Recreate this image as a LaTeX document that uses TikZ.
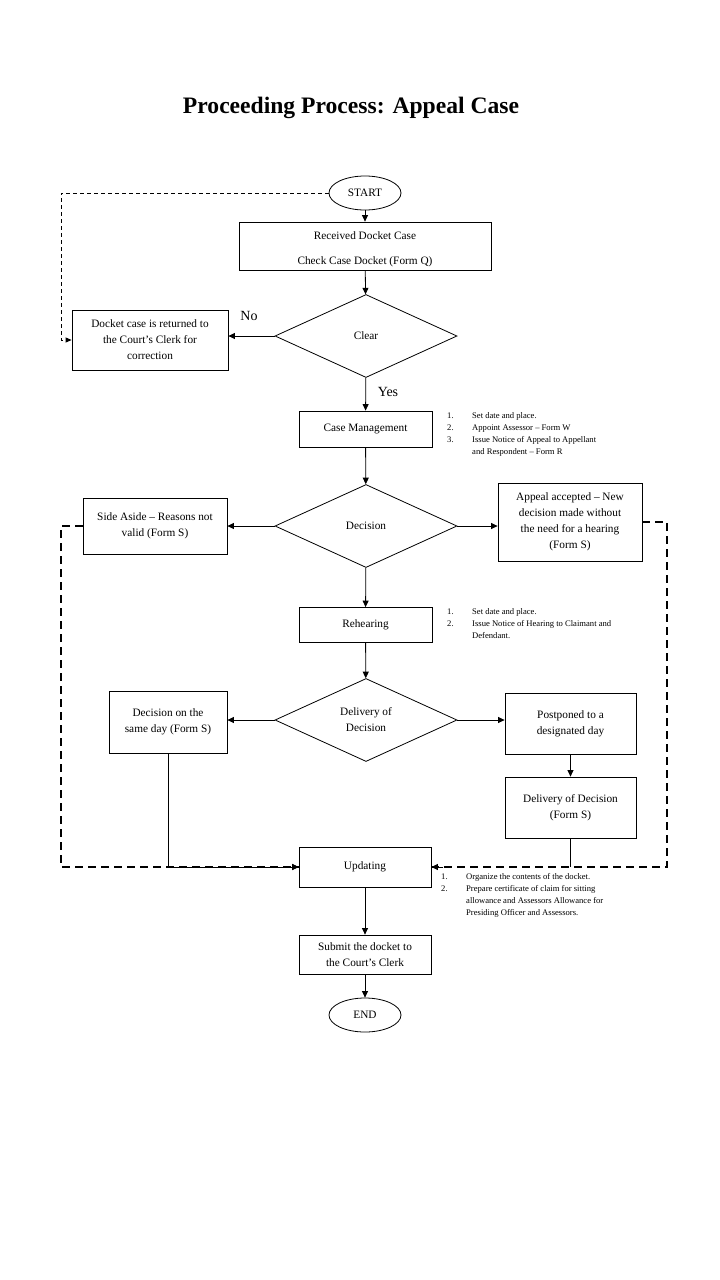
\documentclass[tikz,border=0pt]{standalone}
\usepackage{fontspec}
\setmainfont{Liberation Serif}
\usetikzlibrary{shapes.geometric,arrows.meta}
\tikzset{
  box/.style={draw, line width=0.8pt, inner sep=1pt, align=center, font=\fontsize{11.3}{16}\selectfont},
  dia/.style={draw, line width=0.8pt, diamond, inner sep=0pt, align=center, minimum width=182pt, minimum height=83pt, font=\fontsize{11.3}{16}\selectfont},
  term/.style={draw, line width=0.8pt, ellipse, inner sep=0pt, minimum width=72pt, minimum height=34pt, font=\fontsize{11.3}{14}\selectfont},
  arr/.style={line width=0.8pt, -{Triangle[length=6.5pt,width=6pt]}},
  ln/.style={line width=0.8pt},
  thindash/.style={line width=0.8pt, dash pattern=on 4pt off 3pt, -{Triangle[length=6pt,width=5pt]}},
  thickdash/.style={line width=2pt, dash pattern=on 8pt off 5pt},
  listtext/.style={inner sep=0pt, anchor=north west, align=left, font=\fontsize{8.6}{12}\selectfont},
  lbl/.style={inner sep=0pt, font=\fontsize{14}{16}\selectfont}
}
\begin{document}
\begin{tikzpicture}[x=1pt,y=-1pt]
\useasboundingbox[fill=white] (0,0) rectangle (720,1280);
\node[inner sep=0pt, font=\fontsize{23.6}{27}\selectfont\bfseries] (title) at (351,108) {Proceeding Process: Appeal Case};

\node[term] (start) at (365,193) {START};
\node[box, minimum width=252pt, minimum height=48pt] (recv) at (365,246) {\rule{0pt}{14pt}Received Docket Case\\[9pt]Check Case Docket (Form Q)};
\node[dia] (clear) at (366,336) {Clear};
\node[box, minimum width=156pt, minimum height=60pt] (ret) at (150,340) {Docket case is returned to\\ the Court’s Clerk for\\ correction};
\node[lbl] (no) at (249,316) {No};
\node[lbl] (yes) at (388,392) {Yes};

\node[box, minimum width=133pt, minimum height=36pt] (cm) at (365.5,429) {Case Management};
\node[listtext] (l1) at (447,410) {\begin{tabular}{@{}p{25pt}@{}p{170pt}@{}}1.&Set date and place.\\2.&Appoint Assessor – Form W\\3.&Issue Notice of Appeal to Appellant\newline and Respondent – Form R\end{tabular}};

\node[dia] (dec) at (366,526) {Decision};
\node[box, minimum width=144pt, minimum height=56pt] (side) at (155,526) {Side Aside – Reasons not\\ valid (Form S)};
\node[box, minimum width=144pt, minimum height=78pt] (acc) at (570,522) {Appeal accepted – New\\ decision made without\\ the need for a hearing\\ (Form S)};

\node[box, minimum width=133pt, minimum height=35pt] (reh) at (365.5,625) {Rehearing};
\node[listtext] (l2) at (447,606) {\begin{tabular}{@{}p{25pt}@{}p{170pt}@{}}1.&Set date and place.\\2.&Issue Notice of Hearing to Claimant and\newline Defendant.\end{tabular}};

\node[dia] (del) at (366,720) {Delivery of\\ Decision};
\node[box, minimum width=118pt, minimum height=62pt] (same) at (168,722) {Decision on the\\ same day (Form S)};
\node[box, minimum width=131pt, minimum height=61pt] (post) at (570.5,723.5) {Postponed to a\\ designated day};
\node[box, minimum width=131pt, minimum height=61pt] (deld) at (570.5,807.5) {Delivery of Decision\\ (Form S)};

\node[box, minimum width=132pt, minimum height=40pt] (upd) at (365,867) {Updating};
\node[listtext] (l3) at (441,871) {\begin{tabular}{@{}p{25pt}@{}p{180pt}@{}}1.&Organize the contents of the docket.\\2.&Prepare certificate of claim for sitting\newline allowance and Assessors Allowance for\newline Presiding Officer and Assessors.\end{tabular}};

\node[box, minimum width=132pt, minimum height=39pt] (sub) at (365,954.5) {Submit the docket to\\ the Court’s Clerk};
\node[term] (end) at (365,1015) {END};

% connectors
\draw[arr] (start) -- (recv);
\draw[arr] (recv) -- (clear);
\draw[arr] (clear) -- (ret.east |- clear.west);
\draw[arr] (clear) -- (cm);
\draw[arr] (cm) -- (dec);
\draw[arr] (dec.west) -- (side.east |- dec.west);
\draw[arr] (dec.east) -- (acc.west |- dec.east);
\draw[arr] (dec) -- (reh);
\draw[arr] (reh) -- (del);
\draw[arr] (del.west) -- (same.east |- del.west);
\draw[arr] (del.east) -- (post.west |- del.east);
\draw[arr] (post) -- (deld);
\draw[arr] (upd) -- (sub);
\draw[arr] (sub) -- (end);

\coordinate (lx) at (61,193);
\coordinate (rx) at (667,522);
\draw[thindash] (start.west) -- (lx) |- (ret.west);
\draw[thickdash] (side.west) -| (lx |- upd.west) -- (upd.west);
\draw[thickdash] (acc.east) -- (rx) |- (upd.east);
\draw[arr] (same.south) |- (upd.west);
\draw[ln] (deld.south) -- (deld.south |- upd.east);
\draw[arr] ([xshift=12pt]upd.east) -- (upd.east);
\draw[arr] ([xshift=-12pt]upd.west) -- (upd.west);
\end{tikzpicture}
\end{document}
